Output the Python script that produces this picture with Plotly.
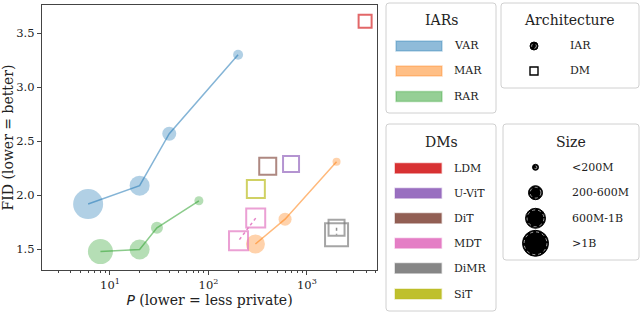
import math
import plotly.graph_objects as go

# ---------------- data ----------------
var_p = [6, 20, 40, 200]
var_fid = [1.92, 2.09, 2.57, 3.30]
mar_p = [300, 600, 2000]
mar_fid = [1.55, 1.78, 2.31]
rar_p = [8, 20, 30, 80]
rar_fid = [1.48, 1.50, 1.70, 1.95]

ldm_p = [3900]
ldm_fid = [3.61]
uvit_p = [690]
uvit_fid = [2.29]
dit_p = [400]
dit_fid = [2.27]
mdt_p = [302, 202]
mdt_fid = [1.79, 1.58]
dimr_p = [2000, 2000]
dimr_fid = [1.70, 1.635]
sit_p = [303]
sit_fid = [2.06]

x_tick_vals = [10, 100, 1000]
x_tick_text = ["10<sup>1</sup>", "10<sup>2</sup>", "10<sup>3</sup>"]
y_tick_vals = [1.5, 2.0, 2.5, 3.0, 3.5]

iar_labels = ["VAR", "MAR", "RAR"]
dm_labels = ["LDM", "U-ViT", "DiT", "MDT", "DiMR", "SiT"]
arch_labels = ["IAR", "DM"]
size_labels = ["<200M", "200-600M", "600M-1B", ">1B"]

# ---------------- style ----------------
var_size = [30, 20, 14, 10]
mar_size = [19, 13, 8]
rar_size = [25, 20, 12, 9]
ldm_size = [13]
uvit_size = [16]
dit_size = [17]
mdt_size = [19, 19]
dimr_size = [16, 23]
sit_size = [18]
size_marker = [6, 14, 20, 26]

C = {
    "blue": (31, 119, 180), "orange": (255, 127, 14), "green": (44, 160, 44),
    "red": (214, 39, 40), "purple": (148, 103, 189), "brown": (140, 86, 75),
    "pink": (227, 119, 194), "gray": (127, 127, 127), "olive": (188, 189, 34),
}


def rgba(c, a):
    return f"rgba({c[0]},{c[1]},{c[2]},{a})"


FONT = "DejaVu Serif"
TXT = "#222"
fig = go.Figure()


def iar(px, fy, sizes, col):
    fig.add_trace(go.Scatter(x=px, y=fy, mode="markers",
                             marker=dict(size=sizes, color=rgba(C[col], 0.5), line=dict(width=0)),
                             showlegend=False, hoverinfo="skip"))
    fig.add_trace(go.Scatter(x=px, y=fy, mode="lines",
                             line=dict(color=rgba(C[col], 0.55), width=1.5),
                             showlegend=False, hoverinfo="skip"))


def dm(px, fy, sizes, col):
    if len(px) > 1:
        fig.add_trace(go.Scatter(x=px, y=fy, mode="lines",
                                 line=dict(color=rgba(C[col], 0.9), width=1.5, dash="dot"),
                                 showlegend=False, hoverinfo="skip"))
    fig.add_trace(go.Scatter(x=px, y=fy, mode="markers",
                             marker=dict(size=sizes, symbol="square-open",
                                         color=rgba(C[col], 1),
                                         line=dict(width=2, color=rgba(C[col], 1))),
                             showlegend=False, hoverinfo="skip"))


iar(var_p, var_fid, var_size, "blue")
iar(mar_p, mar_fid, mar_size, "orange")
iar(rar_p, rar_fid, rar_size, "green")
dm(ldm_p, ldm_fid, ldm_size, "red")
dm(uvit_p, uvit_fid, uvit_size, "purple")
dm(dit_p, dit_fid, dit_size, "brown")
dm(mdt_p, mdt_fid, mdt_size, "pink")
dm(dimr_p, dimr_fid, dimr_size, "gray")
dm(sit_p, sit_fid, sit_size, "olive")

# ---------------- layout geometry ----------------
W, H = 640, 314
L, R, T, B = 42, 377, 5, 270


def px2x(px):
    return (px - L) / (R - L)


def py2y(py):
    return (B - py) / (B - T)


minor_vals = [d * 10 ** e for e in range(0, 4) for d in range(2, 10)]
minor_vals = [v for v in minor_vals if 2.04 <= v <= 5150]

fig.update_layout(
    width=W, height=H,
    margin=dict(l=L, r=W - R, t=T, b=H - B, autoexpand=False),
    paper_bgcolor="white", plot_bgcolor="white",
    font=dict(family=FONT, size=11, color=TXT),
    xaxis=dict(type="log", range=[math.log10(2.04), math.log10(5150)],
               tickmode="array", tickvals=x_tick_vals, ticktext=x_tick_text,
               ticks="outside", ticklen=4, tickwidth=1, tickcolor="#444",
               showline=True, linecolor="#444", linewidth=1.2, mirror=True,
               showgrid=False, zeroline=False,
               minor=dict(tickmode="array", tickvals=minor_vals, ticks="outside",
                          ticklen=2, tickwidth=0.8, tickcolor="#444", showgrid=False),
               title=dict(text="<i style='font-family:DejaVu Sans'>P</i> (lower = less private)",
                          font=dict(family=FONT, size=14, color=TXT), standoff=3),
               tickfont=dict(family=FONT, size=11.5, color=TXT)),
    yaxis=dict(range=[1.31, 3.76], tickmode="array", tickvals=y_tick_vals,
               tickformat=".1f", ticks="outside", ticklen=4, tickwidth=1, tickcolor="#444",
               showline=True, linecolor="#444", linewidth=1.2, mirror=True,
               showgrid=False, zeroline=False,
               title=dict(text="FID (lower = better)",
                          font=dict(family=FONT, size=14, color=TXT), standoff=5),
               tickfont=dict(family=FONT, size=11.5, color=TXT)),
)

shapes = []
annotations = []


def box(x0, y0, x1, y1, r=3):
    X0, X1 = px2x(x0), px2x(x1)
    Y0, Y1 = py2y(y1), py2y(y0)  # Y0 bottom, Y1 top
    rx = r / (R - L)
    ry = r / (B - T)
    path = (f"M {X0+rx},{Y0} L {X1-rx},{Y0} Q {X1},{Y0} {X1},{Y0+ry} "
            f"L {X1},{Y1-ry} Q {X1},{Y1} {X1-rx},{Y1} L {X0+rx},{Y1} "
            f"Q {X0},{Y1} {X0},{Y1-ry} L {X0},{Y0+ry} Q {X0},{Y0} {X0+rx},{Y0} Z")
    shapes.append(dict(type="path", xref="paper", yref="paper", path=path,
                       line=dict(color="#d0d0d0", width=1), fillcolor="white", layer="above"))


def text(px, py, s, size=11, xanchor="left"):
    annotations.append(dict(x=px2x(px), y=py2y(py), xref="paper", yref="paper", text=s,
                            showarrow=False, xanchor=xanchor, yanchor="middle",
                            font=dict(family=FONT, size=size, color=TXT)))


def patch(x0, x1, py, col, alpha):
    shapes.append(dict(type="rect", xref="paper", yref="paper",
                       x0=px2x(x0), x1=px2x(x1), y0=py2y(py + 5), y1=py2y(py - 5),
                       fillcolor=rgba(C[col], alpha), line=dict(color=rgba(C[col], 0.3), width=1.5),
                       layer="above"))


def circle(cx, cy, d, fill="black", ring=True):
    r = d / 2
    shapes.append(dict(type="circle", xref="paper", yref="paper",
                       x0=px2x(cx - r), x1=px2x(cx + r), y0=py2y(cy + r), y1=py2y(cy - r),
                       fillcolor=fill, line=dict(color="black", width=1), layer="above"))
    if ring and d > 5:
        r2 = r - 1.6
        shapes.append(dict(type="circle", xref="paper", yref="paper",
                           x0=px2x(cx - r2), x1=px2x(cx + r2), y0=py2y(cy + r2), y1=py2y(cy - r2),
                           fillcolor="rgba(0,0,0,0)",
                           line=dict(color="rgba(255,255,255,0.8)", width=0.8, dash="dot"),
                           layer="above"))


def square(cx, cy, s):
    h = s / 2
    shapes.append(dict(type="rect", xref="paper", yref="paper",
                       x0=px2x(cx - h), x1=px2x(cx + h), y0=py2y(cy + h), y1=py2y(cy - h),
                       fillcolor="rgba(0,0,0,0)", line=dict(color="black", width=1.4), layer="above"))


# IARs box
box(386, 3, 496, 113)
text(441, 20, "IARs", 14, "center")
for lab, col, py in zip(iar_labels, ["blue", "orange", "green"], [46, 71, 96.5]):
    patch(396, 442, py, col, 0.5)
    text(452, py, lab)

# DMs box
box(386, 124, 496, 311)
text(441, 141.5, "DMs", 14, "center")
for lab, col, py in zip(dm_labels, ["red", "purple", "brown", "pink", "gray", "olive"],
                        [168.3, 193.3, 218.3, 243.3, 268.3, 294]):
    patch(395, 441.5, py, col, 0.95)
    text(452, py, lab)

# Architecture box
box(501, 3, 639, 88)
text(569.5, 20, "Architecture", 14, "center")
circle(534, 46, 8)
square(534, 71, 8)
text(567.5, 46, arch_labels[0])
text(567.5, 71, arch_labels[1])

# Size box
box(503, 124, 639, 260)
text(571, 141.5, "Size", 14, "center")
size_py = [167.3, 192.7, 218.3, 243.3]
for lab, py, d in zip(size_labels, size_py, size_marker):
    circle(535.5, py, d)
    text(570, py, lab)

fig.update_layout(shapes=shapes, annotations=annotations)

fig.write_html("out.html", config={"displayModeBar": False},
               post_script="document.body.style.margin='0';")
